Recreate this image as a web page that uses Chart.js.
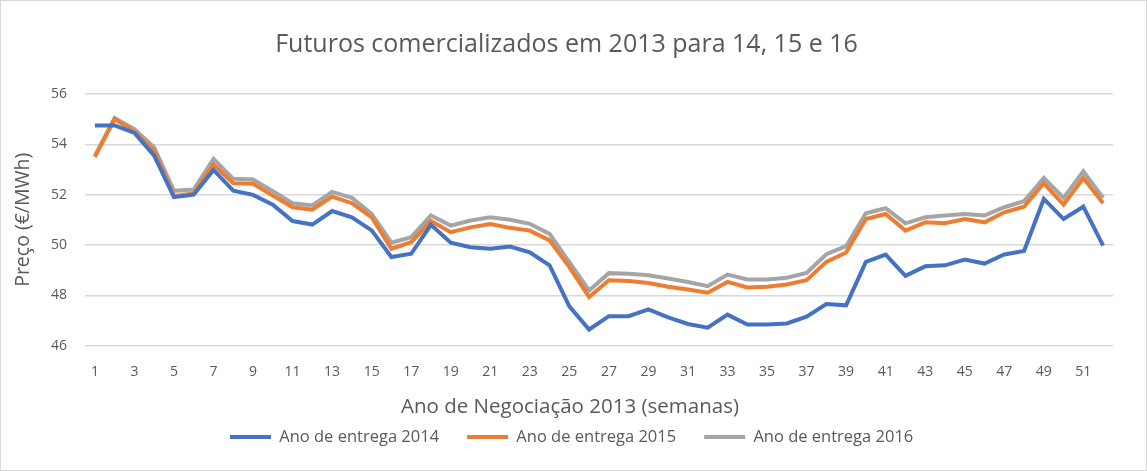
<!DOCTYPE html>
<html>
<head>
<meta charset="utf-8">
<script src="https://cdn.jsdelivr.net/npm/chart.js@4/dist/chart.umd.min.js"></script>
<style>
  html, body { margin: 0; padding: 0; background: #fff; }
  #wrap { position: relative; width: 1147px; height: 471px; box-sizing: border-box; border: 1px solid #d9d9d9; }
  canvas { display: block; }
</style>
</head>
<body>
<div id="wrap"><canvas id="c" width="1145" height="469"></canvas></div>
<script>
const weeks = Array.from({length: 52}, (_, i) => String(i + 1));
const entrega2014 = [54.75, 54.75, 54.45, 53.55, 51.9, 52.0, 52.98, 52.16, 51.99, 51.6,
  50.95, 50.81, 51.35, 51.1, 50.58, 49.52, 49.65, 50.8, 50.09, 49.91,
  49.85, 49.94, 49.71, 49.19, 47.56, 46.64, 47.17, 47.17, 47.44, 47.12,
  46.86, 46.71, 47.23, 46.84, 46.84, 46.88, 47.15, 47.65, 47.6, 49.33,
  49.62, 48.77, 49.15, 49.19, 49.42, 49.26, 49.62, 49.76, 51.83, 51.03,
  51.52, 49.97];
const entrega2015 = [53.5, 55.0, 54.5, 53.75, 51.95, 52.05, 53.2, 52.45, 52.43, 51.96,
  51.5, 51.4, 51.92, 51.66, 51.1, 49.85, 50.11, 50.95, 50.51, 50.7,
  50.83, 50.68, 50.57, 50.18, 49.12, 47.93, 48.6, 48.57, 48.49, 48.34,
  48.23, 48.1, 48.53, 48.31, 48.34, 48.43, 48.6, 49.33, 49.7, 51.03,
  51.23, 50.57, 50.9, 50.86, 51.03, 50.9, 51.3, 51.52, 52.45, 51.6,
  52.66, 51.66];
const entrega2016 = [53.55, 55.05, 54.6, 53.88, 52.15, 52.2, 53.42, 52.63, 52.6, 52.14,
  51.66, 51.57, 52.11, 51.87, 51.24, 50.09, 50.31, 51.17, 50.77, 50.97,
  51.1, 51.0, 50.84, 50.44, 49.32, 48.19, 48.88, 48.86, 48.8, 48.67,
  48.53, 48.36, 48.82, 48.63, 48.63, 48.7, 48.89, 49.63, 49.95, 51.26,
  51.46, 50.86, 51.1, 51.17, 51.23, 51.17, 51.5, 51.74, 52.66, 51.87,
  52.93, 51.87];
const yTicks = [46, 48, 50, 52, 54, 56];
const seriesNames = ['Ano de entrega 2014', 'Ano de entrega 2015', 'Ano de entrega 2016'];
const titleText = 'Futuros comercializados em 2013 para 14, 15 e 16';
const xTitle = 'Ano de Negociação 2013 (semanas)';
const yTitle = 'Preço (€/MWh)';

const FONT = "'Open Sans', sans-serif";
const TXT = '#595959';

Chart.defaults.font.family = FONT;
Chart.defaults.color = TXT;

const mk = (label, data, color) => ({
  label, data, borderColor: color, backgroundColor: color,
  borderWidth: 4, pointRadius: 0, tension: 0, fill: false
});

// Layout tweaks: legend row position, and centring of the titles on the whole chart
const LEGEND_TEXT_Y = 436;
const LEGEND_FIRST_X = 229;
const layoutTweak = {
  id: 'layoutTweak',
  afterLayout(chart) {
    const lg = chart.legend;
    if (lg) {
      const pad = lg.options.labels.padding;
      const fs = lg.options.labels.font.size;
      lg.top = LEGEND_TEXT_Y - pad - fs / 2;
      lg.bottom = lg.top + pad + fs * 2;
      lg.height = lg.bottom - lg.top;
      const lw = lg.lineWidths[0];
      const curStart = (lg.left + pad + lg.right - lw) / 2;
      const dx = LEGEND_FIRST_X - curStart;
      lg.left += dx; lg.right += dx;
    }
    const tb = chart.titleBlock;
    if (tb) { tb.left += 4; tb.right += 4; }
    const xs = chart.scales.x;
    if (xs) { xs.left -= 58; }
  }
};

new Chart(document.getElementById('c'), {
  type: 'line',
  data: {
    labels: weeks,
    datasets: [
      mk(seriesNames[0], entrega2014, '#4472C4'),
      mk(seriesNames[1], entrega2015, '#ED7D31'),
      mk(seriesNames[2], entrega2016, '#A5A5A5')
    ]
  },
  options: {
    responsive: false,
    animation: false,
    devicePixelRatio: 1,
    layout: { padding: { top: 12, left: 11, right: 33, bottom: 21 } },
    plugins: {
      title: {
        display: true, text: titleText, color: TXT,
        font: { size: 25, weight: 'normal' },
        padding: { top: 17, bottom: 34 }
      },
      legend: {
        position: 'bottom',
        maxHeight: 30,
        labels: {
          usePointStyle: true, pointStyle: 'line', pointStyleWidth: 41,
          color: TXT, font: { size: 16.5 }, padding: 28
        }
      },
      tooltip: { enabled: false }
    },
    scales: {
      x: {
        offset: true,
        grid: { display: false },
        border: { display: false },
        ticks: {
          autoSkip: false, maxRotation: 0, color: TXT, font: { size: 14 }, padding: 10,
          callback: function(v, i) { return i % 2 === 0 ? this.getLabelForValue(v) : ''; }
        },
        title: { display: true, text: xTitle, color: TXT, font: { size: 20.5 }, padding: { top: 4, bottom: 0 } }
      },
      y: {
        min: 46, max: 56,
        afterBuildTicks: (s) => { s.ticks = yTicks.map(v => ({ value: v })); },
        afterFit: (s) => { s.width = 73; },
        grid: { color: '#d9d9d9', lineWidth: 1.5, drawTicks: false },
        border: { display: false },
        ticks: { color: TXT, font: { size: 14 }, padding: 18 },
        title: { display: true, text: yTitle, color: TXT, font: { size: 19.5 }, padding: { top: 0, bottom: 16 } }
      }
    }
  },
  plugins: [layoutTweak]
});
</script>
</body>
</html>
